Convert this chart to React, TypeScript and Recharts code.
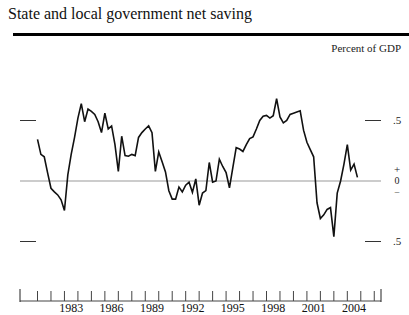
import {
    LineChart,
    Line,
    XAxis,
    YAxis,
    ReferenceLine,
} from 'recharts';

// quarterly, 1981:Q1 - 2004:Q4, percent of GDP
const firstYear = 1981;
const saving = [
    0.344, 0.22, 0.2, 0.067, -0.06, -0.09, -0.115, -0.156, -0.244, 0.05,
    0.22, 0.36, 0.52, 0.64, 0.49, 0.594, 0.575, 0.55, 0.49, 0.4,
    0.56, 0.43, 0.455, 0.3, 0.08, 0.37, 0.21, 0.205, 0.22, 0.21,
    0.36, 0.4, 0.43, 0.456, 0.4, 0.08, 0.24, 0.16, 0.075, -0.08,
    -0.15, -0.15, -0.05, -0.09, -0.035, -0.01, -0.094, 0.017, -0.2, -0.1,
    -0.08, 0.153, -0.01, 0.0, 0.18, 0.12, 0.07, -0.056, 0.11, 0.275,
    0.264, 0.244, 0.3, 0.35, 0.365, 0.43, 0.5, 0.535, 0.542, 0.52,
    0.54, 0.68, 0.53, 0.48, 0.5, 0.55, 0.56, 0.57, 0.58, 0.42,
    0.32, 0.26, 0.2, -0.18, -0.31, -0.28, -0.235, -0.22, -0.46, -0.1,
    0.0, 0.14, 0.3, 0.09, 0.14, 0.03,
];

const yearTicks = [
    1981, 1982, 1983, 1984, 1985, 1986, 1987, 1988, 1989, 1990, 1991, 1992, 1993,
    1994, 1995, 1996, 1997, 1998, 1999, 2000, 2001, 2002, 2003, 2004, 2005, 2006,
];
const labelYears = [1983, 1986, 1989, 1992, 1995, 1998, 2001, 2004];
const xDomain = [1979.7, 2006.5];
const yDomain = [-1, 1];
const yTicks = [-0.5, 0, 0.5];

const data = saving.map((v, i) => ({ t: firstYear + i / 4, v }));

const serif = "'Liberation Serif', 'Times New Roman', serif";

const NoLabel = () => <g />;

function RightTick(props: any) {
    const { x, y, payload } = props;
    const style = { fontFamily: serif, fontSize: 10, fill: '#222' };
    if (payload.value === 0) {
        return (
            <g>
                <text x={x + 16} y={y - 12} textAnchor="middle" dy="0.35em" style={{ ...style, fontSize: 11 }}>+</text>
                <text x={x + 16} y={y - 1} textAnchor="middle" dy="0.35em" style={style}>0</text>
                <text x={x + 16} y={y + 10} textAnchor="middle" dy="0.3em" style={{ ...style, fontSize: 9 }}>–</text>
            </g>
        );
    }
    return (
        <text x={x + 12} y={y} dy="0.35em" style={{ ...style, fontSize: 11 }}>.5</text>
    );
}

export default function App() {
    return (
        <div style={{ position: 'fixed', left: 0, top: 0, width: 409, height: 315, background: '#fff', fontFamily: serif }}>
            <div style={{ position: 'absolute', left: 8, top: 5, fontSize: 16, color: '#111', whiteSpace: 'nowrap' }}>
                State and local government net saving
            </div>
            <div style={{ position: 'absolute', left: 13, right: 0, top: 33, height: 3, background: '#000' }} />
            <div style={{ position: 'absolute', right: 8, top: 42, fontSize: 11, color: '#222', whiteSpace: 'nowrap' }}>
                Percent of GDP
            </div>
            <div style={{ position: 'absolute', left: 0, top: 0 }}>
                <LineChart
                    width={409}
                    height={315}
                    data={data}
                    margin={{ top: 60, right: 0, left: 20, bottom: 0 }}
                >
                    <XAxis
                        xAxisId="ticks"
                        dataKey="t"
                        type="number"
                        domain={xDomain}
                        ticks={yearTicks}
                        interval={0}
                        height={1}
                        mirror
                        tick={NoLabel}
                        tickSize={10}
                        stroke="#444"
                        allowDataOverflow
                    />
                    <XAxis
                        xAxisId="edges"
                        dataKey="t"
                        type="number"
                        domain={xDomain}
                        ticks={xDomain}
                        interval={0}
                        height={1}
                        mirror
                        tick={NoLabel}
                        tickSize={13}
                        axisLine={false}
                        stroke="#222"
                        allowDataOverflow
                    />
                    <XAxis
                        xAxisId="labels"
                        dataKey="t"
                        type="number"
                        domain={xDomain}
                        ticks={labelYears.map((y) => y + 0.5)}
                        interval={0}
                        tickFormatter={(v: number) => String(Math.floor(v))}
                        height={13}
                        axisLine={false}
                        tickLine={false}
                        tickSize={0}
                        tickMargin={1}
                        tick={{ fontSize: 12, fill: '#111', fontFamily: serif }}
                        allowDataOverflow
                    />
                    <YAxis
                        yAxisId="left"
                        domain={yDomain}
                        ticks={yTicks.filter((t) => t !== 0)}
                        interval={0}
                        width={1}
                        mirror
                        tick={NoLabel}
                        tickSize={16}
                        axisLine={false}
                        stroke="#333"
                        allowDataOverflow
                    />
                    <YAxis
                        yAxisId="rightTicks"
                        orientation="right"
                        domain={yDomain}
                        ticks={yTicks.filter((t) => t !== 0)}
                        interval={0}
                        width={1}
                        mirror
                        tick={NoLabel}
                        tickSize={16}
                        axisLine={false}
                        stroke="#333"
                        allowDataOverflow
                    />
                    <YAxis
                        yAxisId="rightLabels"
                        orientation="right"
                        domain={yDomain}
                        ticks={yTicks}
                        interval={0}
                        width={28}
                        axisLine={false}
                        tickLine={false}
                        tickSize={0}
                        tickMargin={0}
                        tick={(p: any) => <RightTick {...p} />}
                        allowDataOverflow
                    />
                    <ReferenceLine
                        yAxisId="left"
                        xAxisId="ticks"
                        y={0}
                        stroke="#999"
                        strokeWidth={1.2}
                    />
                    <Line
                        yAxisId="left"
                        xAxisId="ticks"
                        type="linear"
                        dataKey="v"
                        stroke="#111"
                        strokeWidth={1.6}
                        dot={false}
                        isAnimationActive={false}
                    />
                </LineChart>
            </div>
        </div>
    );
}
